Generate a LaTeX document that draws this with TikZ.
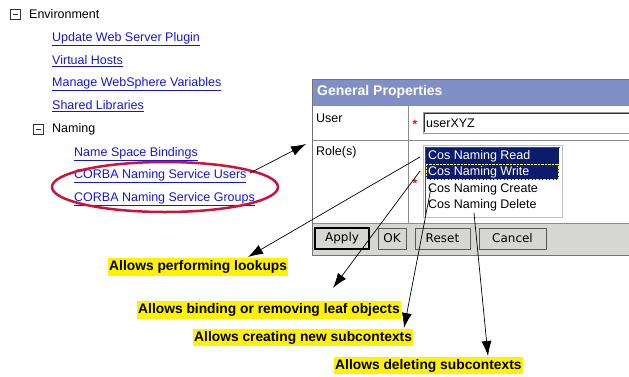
\documentclass[tikz,border=0pt]{standalone}
\usepackage{fontspec}
\setmainfont{Liberation Sans}
\newfontfamily\btnfont{DejaVu Sans}
\usetikzlibrary{arrows.meta}

\definecolor{linkblue}{RGB}{20,20,230}
\definecolor{hdrblue}{RGB}{128,144,198}
\definecolor{selblue}{RGB}{12,28,108}
\definecolor{ringred}{RGB}{206,18,58}
\definecolor{bargray}{RGB}{214,214,212}

% collapse box of the tree
\newcommand{\minusbox}[2]{\draw[black!80] (#1,#2) rectangle ++(10,10); \draw[black!80] (#1+2.5,#2+5) -- ++(5,0);}

\begin{document}
\begin{tikzpicture}[x=1pt,y=-1pt,
  txt/.style={anchor=west,inner sep=0pt,font=\fontsize{12.5}{14}\selectfont},
  lnk/.style={txt,text=linkblue},
  note/.style={anchor=west,fill=yellow,inner xsep=1pt,inner ysep=2.5pt,font=\fontsize{13.8}{16}\selectfont\bfseries},
  btn/.style={draw=black!65,fill=bargray,minimum height=21pt,inner sep=0pt,font=\btnfont\fontsize{12}{14}\selectfont},
  ptr/.style={-{Latex[length=15pt,width=10pt]},line width=0.7pt}]
\useasboundingbox (0,0) rectangle (629,376);

% tree on the left
\minusbox{10}{9}
\node[txt] (env) at (29,14) {Environment};
\node[lnk] (plugin) at (52,39) {\underline{Update Web Server Plugin}};
\node[lnk] (vhosts) at (52,61) {\underline{Virtual Hosts}};
\node[lnk] (wsvars) at (52,84) {\underline{Manage WebSphere Variables}};
\node[lnk] (shlibs) at (52,106) {\underline{Shared Libraries}};
\minusbox{33}{124}
\node[txt] (naming) at (52,129) {Naming};
\node[lnk] (nsbind) at (74,154) {\underline{Name Space Bindings}};
\node[lnk] (users) at (74,176) {\underline{CORBA Naming Service Users}};
\node[lnk] (groups) at (74,199) {\underline{CORBA Naming Service Groups}};
\draw[ringred,line width=2.5pt] (165,187) ellipse [x radius=113, y radius=25];

% general properties panel
\fill[white] (312,79) rectangle (640,255);
\fill[hdrblue] (312,79) rectangle (640,105);
\fill[bargray] (312,223) rectangle (640,255);
\draw[black!45] (312,105) -- (640,105) (312,140) -- (640,140) (312,223) -- (640,223)
  (408,105) -- (408,223);
\draw[black!55] (312,79) rectangle (640,255);
\node[anchor=west,inner sep=0pt,text=white,font=\fontsize{14}{16}\selectfont\bfseries] (hdr) at (317,92) {General Properties};
\node[txt] (user) at (316,118) {User};
\node[txt] (role) at (316,152) {Role(s)};
\node[text=red,inner sep=0pt,font=\fontsize{12}{12}\selectfont\bfseries] (star1) at (415,124) {*};
\node[text=red,inner sep=0pt,font=\fontsize{12}{12}\selectfont\bfseries] (star2) at (415,183) {*};

% user field
\draw[black!40,fill=white] (423,112) rectangle (640,133);
\draw[black!80] (424,132) -- (424,113) -- (640,113);
\node[txt] (uid) at (426,123) {userXYZ};

% roles list
\draw[black!25,fill=white] (423,145) rectangle (562,217);
\draw[black!70] (425,215) -- (425,147) -- (560,147);
\fill[selblue] (426,148) rectangle (559,180);
\draw[yellow!70!white,densely dotted] (426.5,164) rectangle (558.5,179.5);
\node[txt,text=white] (read) at (428,156) {Cos Naming Read};
\node[txt,text=white] (write) at (428,172) {Cos Naming Write};
\node[txt] (create) at (428,189) {Cos Naming Create};
\node[txt] (delete) at (428,205) {Cos Naming Delete};

% buttons
\node[btn,minimum width=54pt,line width=1.3pt,draw=black] (apply) at (342,238.5) {Apply};
\node[btn,minimum width=28pt] (ok) at (392,238.5) {OK};
\node[btn,minimum width=55pt] (reset) at (442.5,238.5) {Reset};
\node[btn,minimum width=67pt] (cancel) at (512.5,238.5) {Cancel};

% notes
\node[note] (lookups) at (108,267) {Allows performing lookups};
\node[note] (binding) at (137,310) {Allows binding or removing leaf objects};
\node[note] (creating) at (193,337.5) {Allows creating new subcontexts};
\node[note] (deleting) at (334,365.5) {Allows deleting subcontexts};

% pointers
\coordinate (usersEnd) at (250,173);
\coordinate (roleRow) at (306,144);
\coordinate (readIn) at (420,157);
\coordinate (writeIn) at (420,171);
\coordinate (createIn) at (431,188);
\coordinate (deleteIn) at (474,213);
\coordinate (tipA) at (248,257);
\coordinate (tipB) at (333,288);
\coordinate (tipC) at (404,328);
\coordinate (tipD) at (488,356);
\path[ptr]
  (usersEnd) edge (roleRow)
  (readIn) edge (tipA)
  (writeIn) edge (tipB)
  (createIn) edge (tipC)
  (deleteIn) edge (tipD);
\end{tikzpicture}
\end{document}
